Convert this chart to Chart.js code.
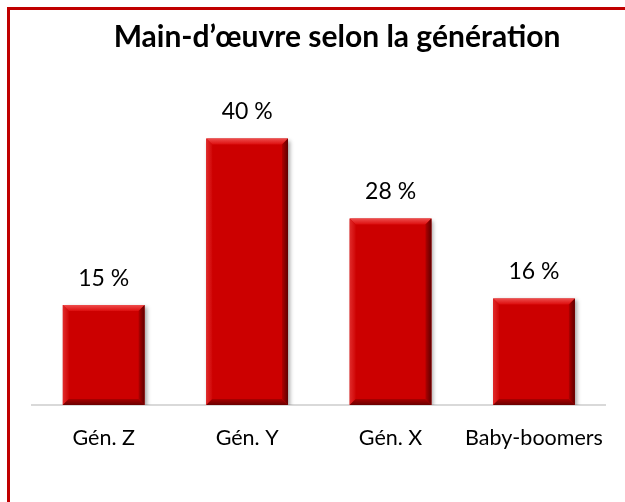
<!DOCTYPE html>
<html>
<head>
<meta charset="utf-8">
<script src="https://cdn.jsdelivr.net/npm/chart.js@4/dist/chart.umd.min.js"></script>
<style>
  html, body { margin: 0; padding: 0; background: #fff; overflow: hidden; }
  #wrap { position: relative; width: 625px; height: 502px; }
</style>
</head>
<body>
<div id="wrap"><canvas id="chart" width="625" height="502"></canvas></div>
<script>
// chart data
const categories = ['Gén. Z', 'Gén. Y', 'Gén. X', 'Baby-boomers'];
const shares = [15, 40, 28, 16];
const chartTitle = 'Main-d\u2019œuvre selon la génération';

const FONT = 'Lato, "Open Sans", sans-serif';

// red frame round the chart object (only top and left edges fall inside the picture)
const framePlugin = {
    id: 'frame',
    beforeDraw(chart) {
        const ctx = chart.ctx;
        ctx.save();
        ctx.fillStyle = '#fff';
        ctx.fillRect(0, 0, chart.width, chart.height);
        ctx.strokeStyle = '#C00000';
        ctx.lineWidth = 3;
        ctx.strokeRect(8.5, 8.5, chart.width + 20, chart.height + 20);
        ctx.fillStyle = '#000';
        ctx.font = 'bold 30px ' + FONT;
        ctx.textAlign = 'center';
        ctx.textBaseline = 'middle';
        ctx.fillText(chartTitle, 337, 37);
        ctx.restore();
    }
};

// soft shadow under bars
const shadowPlugin = {
    id: 'barShadow',
    beforeDatasetDraw(chart) {
        const ctx = chart.ctx;
        ctx.save();
        ctx.shadowColor = 'rgba(0,0,0,0.35)';
        ctx.shadowBlur = 4;
        ctx.shadowOffsetX = 2;
        ctx.shadowOffsetY = 2;
    },
    afterDatasetDraw(chart) {
        chart.ctx.restore();
    }
};

// bevel edges on each bar + value labels
const bevelPlugin = {
    id: 'bevel',
    afterDatasetsDraw(chart) {
        const ctx = chart.ctx;
        const meta = chart.getDatasetMeta(0);
        const b = 6;
        meta.data.forEach((bar, i) => {
            const l = bar.x - bar.width / 2, r = bar.x + bar.width / 2;
            const t = bar.y, btm = bar.base;
            ctx.save();
            // top
            let g = ctx.createLinearGradient(0, t, 0, t + b);
            g.addColorStop(0, '#EE4C4C');
            g.addColorStop(1, '#DC0C0C');
            ctx.fillStyle = g;
            ctx.beginPath();
            ctx.moveTo(l, t); ctx.lineTo(r, t); ctx.lineTo(r - b, t + b); ctx.lineTo(l + b, t + b);
            ctx.closePath(); ctx.fill();
            // left
            g = ctx.createLinearGradient(l, 0, l + b, 0);
            g.addColorStop(0, '#E02A2A');
            g.addColorStop(1, '#D00606');
            ctx.fillStyle = g;
            ctx.beginPath();
            ctx.moveTo(l, t); ctx.lineTo(l + b, t + b); ctx.lineTo(l + b, btm - b); ctx.lineTo(l, btm);
            ctx.closePath(); ctx.fill();
            // right
            g = ctx.createLinearGradient(r - b, 0, r, 0);
            g.addColorStop(0, '#B00000');
            g.addColorStop(1, '#5E0000');
            ctx.fillStyle = g;
            ctx.beginPath();
            ctx.moveTo(r, t); ctx.lineTo(r, btm); ctx.lineTo(r - b, btm - b); ctx.lineTo(r - b, t + b);
            ctx.closePath(); ctx.fill();
            // bottom
            g = ctx.createLinearGradient(0, btm - b, 0, btm);
            g.addColorStop(0, '#A80000');
            g.addColorStop(1, '#6A0000');
            ctx.fillStyle = g;
            ctx.beginPath();
            ctx.moveTo(l, btm); ctx.lineTo(r, btm); ctx.lineTo(r - b, btm - b); ctx.lineTo(l + b, btm - b);
            ctx.closePath(); ctx.fill();
            // value label
            ctx.fillStyle = '#000';
            ctx.font = '23px ' + FONT;
            ctx.textAlign = 'center';
            ctx.textBaseline = 'middle';
            ctx.fillText(shares[i] + ' %', bar.x, t - 27);
            ctx.restore();
        });
    }
};

new Chart(document.getElementById('chart'), {
    type: 'bar',
    data: {
        labels: categories,
        datasets: [{
            data: shares,
            backgroundColor: '#CC0000',
            borderWidth: 0,
            barPercentage: 0.57,
            categoryPercentage: 1
        }]
    },
    options: {
        responsive: false,
        animation: false,
        layout: { padding: { top: 72, left: 32, right: 17, bottom: 0 } },
        plugins: {
            legend: { display: false },
            title: { display: false },
            tooltip: { enabled: false }
        },
        scales: {
            x: {
                grid: { display: false, drawTicks: false },
                border: { display: true, color: '#D9D9D9', width: 2 },
                ticks: {
                    color: '#000',
                    font: { family: FONT, size: 21.5 },
                    padding: 20,
                    maxRotation: 0,
                    autoSkip: false
                },
                afterFit(scale) { scale.height = 97; }
            },
            y: {
                display: false,
                min: 0,
                max: 50
            }
        }
    },
    plugins: [framePlugin, shadowPlugin, bevelPlugin]
});
</script>
</body>
</html>
